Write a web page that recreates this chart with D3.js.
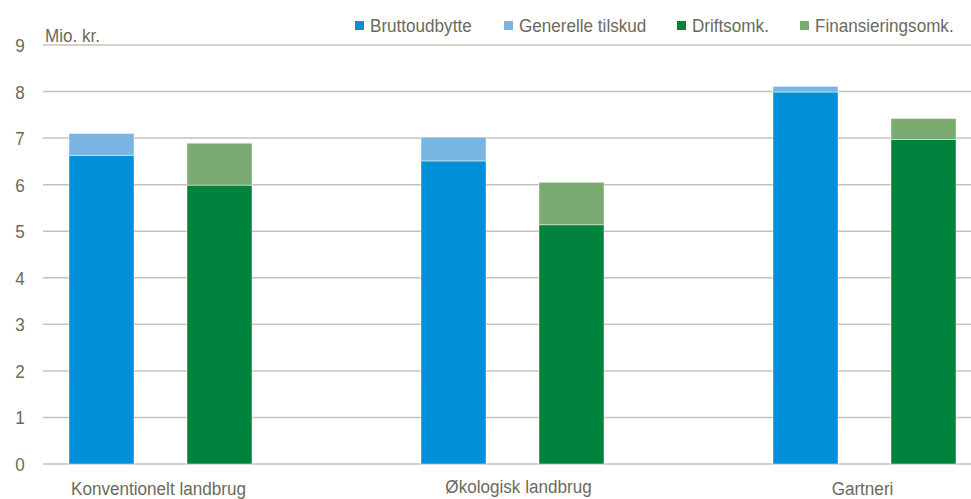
<!DOCTYPE html>
<html><head><meta charset="utf-8">
<script src="https://cdn.jsdelivr.net/npm/d3@7"></script>
<style>
body{margin:0;background:#fff;}
text{font-family:"Liberation Sans Narrow","Arial Narrow","Liberation Sans",sans-serif;fill:#6b6a5c;}
</style></head>
<body><svg id="c" width="971" height="499"></svg>
<script>
const categories = ["Konventionelt landbrug","Økologisk landbrug","Gartneri"];
const bruttoudbytte = [6.63, 6.51, 7.99];
const generelleTilskud = [0.47, 0.51, 0.12];
const driftsomk = [5.99, 5.14, 6.97];
const finansieringsomk = [0.90, 0.91, 0.45];
const seriesNames = ["Bruttoudbytte","Generelle tilskud","Driftsomk.","Finansieringsomk."];
const colors = ["#0090d5","#78b5e3","#00843d","#79aa70"];
const yTicks = [0,1,2,3,4,5,6,7,8,9];

const FS = 19, SX = 0.9;
const svg = d3.select("#c");
const mLeft = 43, mTop = 45, mBottom = 464;
const y = d3.scaleLinear().domain([0,9]).range([mBottom, mTop]);
const x = d3.scaleBand().domain(categories).range([mLeft, mLeft + 352*3]);
const inner = d3.scaleBand().domain(["in","out"]).range([26, 209]).paddingInner(53/118);

function txt(g, px, py, s, anchor){
  return g.append("text")
    .attr("transform", `translate(${px},${py}) scale(${SX},1)`)
    .attr("text-anchor", anchor||"start")
    .attr("font-size", FS).text(s);
}

// gridlines
svg.append("g").selectAll("line").data(yTicks).join("line")
  .attr("x1", mLeft).attr("x2", 971)
  .attr("y1", d=>y(d)).attr("y2", d=>y(d))
  .attr("stroke", "#c4c4b6").attr("stroke-width", 1.5);

// y tick labels
const yl = svg.append("g");
yTicks.forEach(t=> txt(yl, 20, y(t)+7, t, "middle"));

txt(svg, 45, 42, "Mio. kr.");

// stacks
const stacks = [];
categories.forEach((c,i)=>{
  stacks.push({cat:c, grp:"in", y0:0, y1:bruttoudbytte[i], col:colors[0]});
  stacks.push({cat:c, grp:"in", y0:bruttoudbytte[i], y1:bruttoudbytte[i]+generelleTilskud[i], col:colors[1]});
  stacks.push({cat:c, grp:"out", y0:0, y1:driftsomk[i], col:colors[2]});
  stacks.push({cat:c, grp:"out", y0:driftsomk[i], y1:driftsomk[i]+finansieringsomk[i], col:colors[3]});
});
svg.append("g").selectAll("rect").data(stacks).join("rect")
  .attr("x", d=>x(d.cat)+inner(d.grp))
  .attr("width", inner.bandwidth())
  .attr("y", d=>y(d.y1)).attr("height", d=>y(d.y0)-y(d.y1))
  .attr("fill", d=>d.col)
  .attr("stroke", "rgba(255,255,255,0.45)").attr("stroke-width", 1);

// category labels
const labDx = [-2, 6, -2], labY = [495, 493, 495];
const cl = svg.append("g");
categories.forEach((c,i)=>{
  const cx = x(c) + (inner("in")+inner("out")+inner.bandwidth())/2 + labDx[i];
  txt(cl, cx, labY[i], c, "middle");
});

// legend
const legX = [355, 504, 677, 800];
const lg = svg.append("g");
seriesNames.forEach((s,i)=>{
  lg.append("rect").attr("x",legX[i]).attr("y",21).attr("width",9).attr("height",9).attr("fill",colors[i]);
  txt(lg, legX[i]+15, 32, s);
});
</script></body></html>
